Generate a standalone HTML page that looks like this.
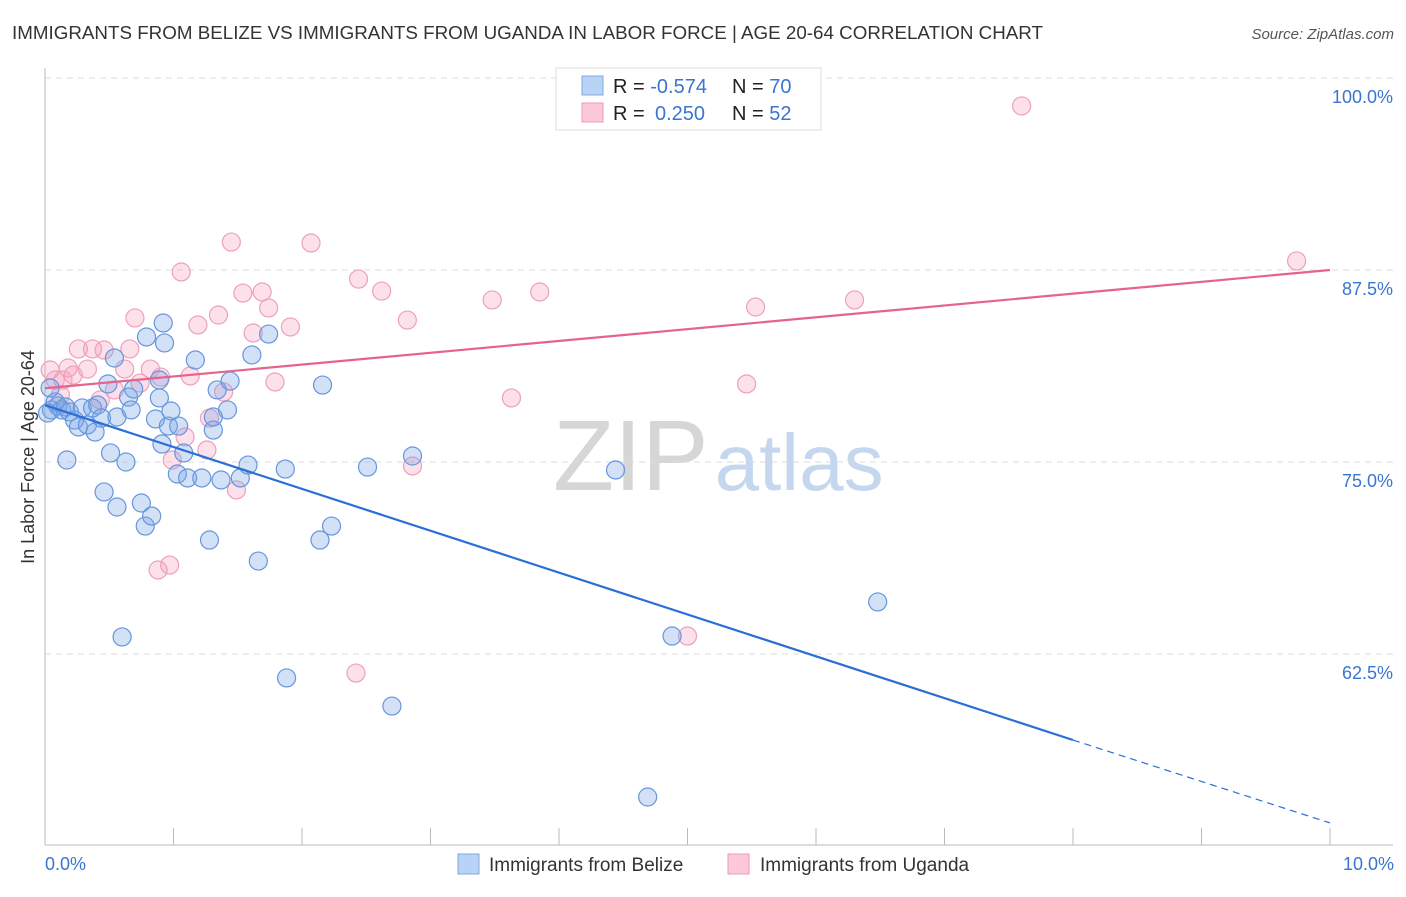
<!DOCTYPE html>
<html><head><meta charset="utf-8"><style>
body{margin:0;background:#fff;font-family:"Liberation Sans",sans-serif;}
svg text{font-family:"Liberation Sans",sans-serif;}
</style></head><body>
<svg id="chart" width="1406" height="892" viewBox="0 0 1406 892" xmlns="http://www.w3.org/2000/svg">
<text x="12" y="39" font-size="18" fill="#333" textLength="1031" lengthAdjust="spacingAndGlyphs">IMMIGRANTS FROM BELIZE VS IMMIGRANTS FROM UGANDA IN LABOR FORCE | AGE 20-64 CORRELATION CHART</text>
<text x="1394" y="39" font-size="15" fill="#555" text-anchor="end" font-style="italic">Source: ZipAtlas.com</text>
<text x="553" y="490" font-size="100" fill="#d6d6d6" font-family="Liberation Serif">ZIP<tspan fill="#c5d7ef" font-family="Liberation Sans" font-size="80" dx="6">atlas</tspan></text>
<g id="grid"></g>
<g id="axes"></g>
<g id="marks"></g>
<text transform="translate(34,457) rotate(-90)" font-size="18" fill="#333" text-anchor="middle">In Labor Force | Age 20-64</text>
<text x="45" y="870" font-size="18" fill="#3a75d0">0.0%</text>
<text x="1394" y="870" font-size="18" fill="#3a75d0" text-anchor="end">10.0%</text>
<g>
<rect x="556" y="68" width="265" height="62" fill="#fff" stroke="#ddd"/>
<rect x="582" y="76" width="21" height="19" fill="#b9d3f5" stroke="#7fa8e0"/>
<rect x="582" y="103" width="21" height="19" fill="#fcc9d8" stroke="#ec9ab5"/>
<text x="613" y="93" font-size="20" fill="#222">R = <tspan fill="#3a75d0">-0.574</tspan><tspan x="732">N = </tspan><tspan fill="#3a75d0">70</tspan></text>
<text x="613" y="120" font-size="20" fill="#222">R = <tspan fill="#3a75d0" x="655">0.250</tspan><tspan x="732">N = </tspan><tspan fill="#3a75d0">52</tspan></text>
</g>
<g>
<rect x="458" y="854" width="21" height="20" fill="#b9d3f5" stroke="#7fa8e0"/>
<text x="489" y="871" font-size="19" fill="#333">Immigrants from Belize</text>
<rect x="728" y="854" width="21" height="20" fill="#fcc9d8" stroke="#ec9ab5"/>
<text x="760" y="871" font-size="19" fill="#333">Immigrants from Uganda</text>
</g>
</svg>
<script>
const yTicks=[100,87.5,75,62.5];
const yTickLabels=["100.0%","87.5%","75.0%","62.5%"];
const xTicks=[0,1,2,3,4,5,6,7,8,9,10];
const belizeX=[0.05,0.08,0.10,0.13,0.16,0.19,0.23,0.26,0.29,0.33,0.37,0.39,0.41,0.44,0.46,0.51,0.54,0.56,0.56,0.60,0.63,0.65,0.67,0.69,0.75,0.78,0.79,0.83,0.86,0.89,0.89,0.91,0.92,0.93,0.96,0.98,1.03,1.08,1.11,1.17,1.22,1.28,1.31,1.34,1.37,1.42,1.44,1.52,1.58,1.61,1.66,1.74,1.87,1.88,2.14,2.16,2.23,2.51,2.70,2.86,4.44,4.69,4.88,6.48,0.04,0.02,0.49,1.31,1.04,0.17];
const belizeY=[78.39,78.91,78.65,78.39,78.58,78.26,77.73,77.28,78.52,77.41,78.52,76.95,78.71,77.86,73.05,75.59,81.77,72.07,77.93,63.61,75.00,79.23,78.39,79.75,72.33,70.83,83.14,71.48,77.80,80.34,79.17,76.17,84.05,82.75,77.34,78.32,74.22,75.59,73.96,81.64,73.96,69.92,77.08,79.69,73.83,78.39,80.27,73.96,74.80,81.97,68.55,83.33,74.54,60.94,69.92,80.01,70.83,74.67,59.11,75.39,74.48,53.19,63.67,65.89,79.82,78.19,80.08,77.93,77.34,75.13];
const ugandaX=[0.04,0.08,0.12,0.18,0.22,0.26,0.33,0.37,0.43,0.46,0.54,0.62,0.66,0.70,0.74,0.82,0.88,0.90,0.97,0.99,1.06,1.09,1.13,1.19,1.26,1.28,1.35,1.39,1.45,1.49,1.54,1.62,1.69,1.74,1.79,1.91,2.07,2.44,2.42,2.62,2.82,2.86,3.48,3.63,3.85,5.00,5.46,5.53,6.30,7.60,9.74,0.14];
const ugandaY=[80.99,80.34,79.36,81.12,80.66,82.36,81.05,82.36,79.04,82.29,79.69,81.05,82.36,84.38,80.14,81.05,67.97,80.53,68.29,75.13,87.37,76.63,80.60,83.92,75.78,77.86,84.57,79.56,89.32,73.18,86.00,83.40,86.07,85.03,80.21,83.79,89.26,86.91,61.26,86.13,84.24,74.74,85.55,79.17,86.07,63.67,80.08,85.09,85.55,98.18,88.09,80.34];
const belizeTrend=[[0,78.7],[8,56.9],[10,51.5]];
const ugandaTrend=[[0,79.8],[10,87.5]];

const NS="http://www.w3.org/2000/svg";
const xs=v=>45+v*128.5;
const ys=v=>78+(100-v)*15.36;
function mk(tag,attrs,parent){const e=document.createElementNS(NS,tag);for(const k in attrs)e.setAttribute(k,attrs[k]);parent.appendChild(e);return e;}
const grid=document.getElementById('grid'),axes=document.getElementById('axes'),marks=document.getElementById('marks');
yTicks.forEach((t,i)=>{
  const l=mk('line',{x1:45,x2:1393,y1:ys(t),y2:ys(t),stroke:'#ddd','stroke-dasharray':'6,5'},grid);
  
  
  const tx=mk('text',{x:1393,y:ys(t)+25,'font-size':18,fill:'#3a75d0','text-anchor':'end'},grid);
  tx.textContent=yTickLabels[i];
  
  
});
const ya=mk('line',{x1:45,x2:45,y1:68,y2:845,stroke:'#bbb'},axes);


const xa=mk('line',{x1:45,x2:1393,y1:845,y2:845,stroke:'#bbb'},axes);


xTicks.forEach(t=>{
  const l=mk('line',{x1:xs(t),x2:xs(t),y1:828,y2:845,stroke:'#bbb'},axes);
  
  
});
function pts(X,Y,fill,stroke,name){
  X.forEach((x,i)=>{
    const c=mk('circle',{cx:xs(x),cy:ys(Y[i]),r:9,fill:fill,stroke:stroke,'stroke-width':1.2},marks);
    
    
  });
}
pts(ugandaX,ugandaY,'rgba(245,160,190,0.33)','#eea0ba','uganda-point');
pts(belizeX,belizeY,'rgba(120,165,230,0.33)','#6696dc','belize-point');
const bt1=mk('line',{x1:xs(belizeTrend[0][0]),y1:ys(belizeTrend[0][1]),x2:xs(belizeTrend[1][0]),y2:ys(belizeTrend[1][1]),stroke:'#2a6fd6','stroke-width':2.2},marks);


const bt2=mk('line',{x1:xs(belizeTrend[1][0]),y1:ys(belizeTrend[1][1]),x2:xs(belizeTrend[2][0]),y2:ys(belizeTrend[2][1]),stroke:'#2a6fd6','stroke-width':1.2,'stroke-dasharray':'7,5'},marks);


const ut=mk('line',{x1:xs(ugandaTrend[0][0]),y1:ys(ugandaTrend[0][1]),x2:xs(ugandaTrend[1][0]),y2:ys(ugandaTrend[1][1]),stroke:'#e5638f','stroke-width':2.2},marks);


</script>
</body></html>
